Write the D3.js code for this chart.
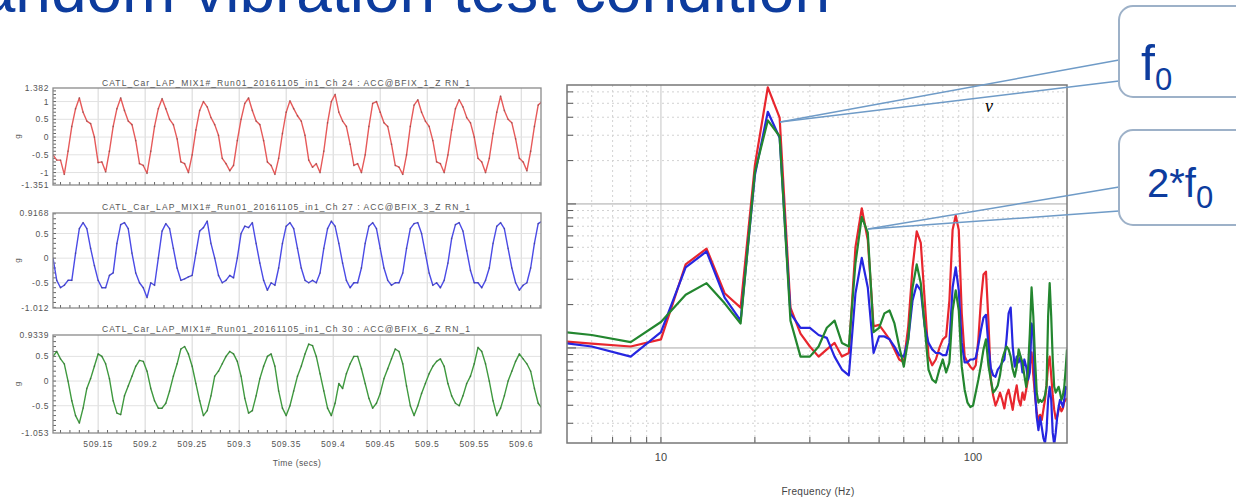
<!DOCTYPE html>
<meta charset="utf-8">
<style>
    body { margin: 0; background: #fff; }
    svg { display: block; font-family: "Liberation Sans", Arial, sans-serif; }
</style>
<script src="https://d3js.org/d3.v7.min.js"></script>

<div id="chart"></div>

<script>
// ---- data ----
const titleText = "Random vibration test condition";

// time records (g), one sample every 4 ms starting at t0 (secs)
const t0 = 509.102, dt = 0.004;
const timeTicks = [509.15, 509.2, 509.25, 509.3, 509.35, 509.4, 509.45, 509.5, 509.55, 509.6];
const timeTickLabels = ["509.15", "509.2", "509.25", "509.3", "509.35", "509.4", "509.45", "509.5", "509.55", "509.6"];

const ch24 = [-0.5,-0.65,-0.65,-1.05,-0.4,0.3,0.8,1.1,0.7,0.45,
    0.38,0.0,-0.72,-0.7,-0.98,-0.4,0.3,0.8,1.1,0.75,
    0.45,0.35,-0.1,-0.75,-0.8,-1.02,-0.4,0.3,0.8,1.08,
    0.8,0.5,0.35,-0.05,-0.7,-0.75,-1.0,-0.5,0.2,0.75,
    1.0,0.85,0.55,0.35,0.05,-0.6,-0.75,-0.95,-0.8,-0.1,
    0.5,0.95,1.1,0.75,0.45,0.35,-0.1,-0.7,-0.8,-1.05,
    -0.6,0.1,0.7,1.02,0.8,0.6,0.45,0.05,-0.65,-0.85,
    -0.75,-1.0,-0.4,0.4,1.0,1.2,0.7,0.45,0.3,-0.2,
    -0.8,-0.75,-1.0,-0.5,0.3,0.95,1.0,0.7,0.4,0.3,
    -0.2,-0.8,-0.85,-1.05,-0.5,0.3,0.9,1.05,0.7,0.45,
    0.3,-0.1,-0.7,-0.75,-1.0,-0.5,0.2,0.8,1.05,0.85,
    0.55,0.4,0.0,-0.6,-0.7,-1.0,-0.6,0.1,0.7,1.15,
    0.75,0.5,0.4,-0.05,-0.6,-0.7,-0.95,-0.4,0.3,0.9,
    1.0];

const ch27 = [0.0,-0.45,-0.6,-0.55,-0.45,-0.45,0.1,0.6,0.72,0.6,
    0.2,-0.15,-0.45,-0.6,-0.6,-0.35,-0.3,0.3,0.68,0.72,
    0.6,0.1,-0.3,-0.5,-0.6,-0.8,-0.5,-0.55,0.0,0.55,
    0.7,0.6,0.2,-0.2,-0.45,-0.42,-0.38,-0.35,0.1,0.55,
    0.62,0.75,0.3,0.0,-0.35,-0.5,-0.45,-0.35,-0.4,0.0,
    0.5,0.65,0.62,0.72,0.3,-0.1,-0.45,-0.65,-0.5,-0.55,
    -0.2,0.3,0.65,0.72,0.6,0.2,-0.2,-0.45,-0.5,-0.45,
    -0.5,-0.3,0.2,0.6,0.75,0.65,0.3,-0.1,-0.45,-0.6,
    -0.5,-0.5,-0.2,0.3,0.65,0.72,0.6,0.2,-0.2,-0.45,
    -0.55,-0.5,-0.5,-0.3,0.2,0.6,0.7,0.72,0.5,0.1,
    -0.3,-0.55,-0.5,-0.6,-0.45,-0.1,0.4,0.68,0.72,0.55,
    0.15,-0.25,-0.5,-0.5,-0.6,-0.45,-0.2,0.3,0.65,0.72,
    0.6,0.2,-0.2,-0.5,-0.65,-0.55,-0.5,-0.2,0.3,0.7,
    0.75];

const ch30 = [0.5,0.6,0.45,0.35,0.0,-0.4,-0.7,-0.85,-0.55,-0.15,
    0.05,0.3,0.55,0.5,0.35,0.05,-0.4,-0.65,-0.68,-0.3,
    -0.1,0.1,0.3,0.42,0.4,0.2,-0.15,-0.4,-0.55,-0.55,
    -0.45,-0.2,0.1,0.35,0.65,0.7,0.55,0.3,-0.05,-0.4,
    -0.7,-0.6,-0.3,0.1,0.2,0.35,0.5,0.6,0.55,0.4,
    0.1,-0.35,-0.65,-0.6,-0.3,0.05,0.3,0.5,0.55,0.3,
    -0.2,-0.55,-0.7,-0.5,-0.2,0.1,0.3,0.55,0.75,0.72,
    0.5,0.15,-0.2,-0.55,-0.7,-0.45,-0.05,-0.15,0.15,0.35,
    0.5,0.5,0.25,-0.05,-0.35,-0.55,-0.45,-0.25,0.05,0.25,
    0.45,0.65,0.6,0.35,-0.1,-0.5,-0.7,-0.5,-0.25,-0.05,
    0.15,0.3,0.4,0.45,0.3,-0.05,-0.3,-0.45,-0.5,-0.3,
    -0.05,0.1,0.35,0.68,0.6,0.35,0.0,-0.4,-0.7,-0.55,
    -0.3,0.0,0.2,0.4,0.55,0.45,0.35,0.2,-0.15,-0.45,
    -0.55];

const panelTitles = [
    "CATL_Car_LAP_MIX1#_Run01_20161105_in1_Ch 24 : ACC@BFIX_1_Z RN_1",
    "CATL_Car_LAP_MIX1#_Run01_20161105_in1_Ch 27 : ACC@BFIX_3_Z RN_1",
    "CATL_Car_LAP_MIX1#_Run01_20161105_in1_Ch 30 : ACC@BFIX_6_Z RN_1"
];
const panelRanges = [[-1.351, 1.382], [-1.012, 0.9168], [-1.053, 0.9339]];
const panelRangeLabels = [["-1.351", "1.382"], ["-1.012", "0.9168"], ["-1.053", "0.9339"]];

// PSD in dB (re 1 g^2/Hz), 2 Hz bins starting at 4 Hz
const psdStartHz = 4, psdStepHz = 2;
const psdRed = [-29.4,-29.7,-29.9,-29.4,-24.2,-23.1,-26.2,-27.2,-17.3,-11.9,
    -14.0,-27.2,-29.0,-29.9,-30.6,-30.1,-29.65,-30.6,-30.35,-23.0,
    -20.3,-22.5,-28.5,-28.4,-28.9,-29.4,-30.1,-30.8,-31.0,-28.5,
    -24.4,-21.9,-22.7,-26.7,-30.6,-31.2,-30.8,-30.0,-29.4,-29.2,
    -26.7,-21.8,-20.8,-21.8,-27.6,-30.6,-31.0,-31.3,-31.5,-31.2,
    -29.4,-26.7,-24.9,-24.7,-28.1,-32.2,-33.3,-34.0,-33.6,-33.1,
    -33.6,-34.2,-33.3,-32.9,-33.6,-34.3,-33.3,-32.6,-33.6,-34.0,
    -33.1,-33.6,-32.9,-32.2,-31.2,-30.3,-31.9,-33.3,-34.5,-35.0,
    -34.65,-35.0,-34.3,-33.6,-32.6,-31.2,-30.6,-31.9,-33.3,-34.3,
    -34.9,-34.8,-34.3,-34.1,-34.4,-34.2,-33.75,-33.6,-33.5];
const psdBlue = [-29.4,-29.9,-30.6,-28.9,-24.4,-23.3,-26.5,-28.1,-18.0,-13.6,
    -15.4,-27.6,-28.6,-28.6,-29.1,-29.3,-30.6,-31.5,-31.9,-26.2,
    -23.75,-25.8,-30.35,-29.2,-29.2,-29.4,-29.9,-30.5,-30.6,-29.4,
    -26.7,-25.6,-26.0,-28.5,-29.65,-30.1,-30.35,-30.35,-30.5,-30.5,
    -29.65,-25.8,-24.4,-26.0,-29.65,-31.0,-31.0,-30.8,-30.8,-30.7,
    -29.8,-28.75,-27.9,-27.7,-29.8,-31.4,-31.9,-32.0,-31.5,-31.3,
    -31.0,-30.8,-29.4,-27.6,-27.2,-29.9,-31.3,-30.6,-31.0,-30.6,
    -31.7,-30.8,-31.3,-32.2,-31.7,-28.3,-29.0,-33.1,-34.8,-35.7,
    -34.8,-35.5,-36.25,-36.6,-35.7,-33.6,-32.7,-33.6,-35.9,-36.7,
    -35.9,-34.8,-34.1,-33.6,-33.8,-34.1,-33.6,-32.7,-32.9];
const psdGreen = [-28.7,-29.1,-29.6,-28.2,-26.3,-25.5,-26.9,-28.3,-17.8,-14.2,
    -15.3,-28.1,-30.6,-30.6,-29.9,-28.6,-28.1,-29.65,-29.9,-24.1,
    -20.9,-22.0,-28.9,-28.6,-27.6,-27.4,-28.3,-29.9,-31.3,-29.4,
    -25.8,-24.2,-25.5,-28.5,-31.5,-32.2,-32.4,-31.5,-30.8,-31.7,
    -31.0,-27.4,-26.0,-27.4,-31.3,-32.9,-33.8,-34.1,-34.0,-33.1,
    -32.2,-31.2,-30.1,-29.4,-31.2,-32.2,-33.1,-32.9,-32.6,-31.9,
    -30.8,-30.3,-29.9,-30.1,-30.6,-31.5,-32.0,-31.3,-30.1,-30.6,
    -31.0,-31.9,-32.7,-31.5,-29.0,-25.8,-27.8,-30.8,-33.1,-33.8,
    -33.6,-33.75,-33.6,-33.3,-32.6,-27.8,-25.5,-27.8,-30.8,-32.7,
    -33.1,-32.9,-32.7,-33.1,-33.6,-33.3,-32.7,-31.5,-30.1];
const freqTickLabels = [10, 100];

// ---- drawing ----
const svg = d3.select("#chart")
  .append("svg")
    .attr("width", 1236)
    .attr("height", 498);
const defs = svg.append("defs");

// slide title (cut off at the top, as on the slide)
svg.append("text")
    .attr("x", 830).attr("y", 12)
    .attr("text-anchor", "end")
    .style("font-size", "64px")
    .attr("fill", "#0d3c9e")
    .text(titleText);

// left: three time histories
const panels = [
    {values: ch24, color: "#e65a5a", top: 88, bottom: 185, titleY: 86},
    {values: ch27, color: "#4b4be6", top: 213, bottom: 308, titleY: 210},
    {values: ch30, color: "#3f9a3f", top: 335, bottom: 433, titleY: 332}
];
const tx = d3.scaleLinear().domain([509.102, 509.621]).range([53, 541]);

panels.forEach(function(p, k) {
    const range = panelRanges[k];
    const y = d3.scaleLinear().domain(range).range([p.bottom, p.top]);
    const g = svg.append("g");

    defs.append("clipPath").attr("id", "clipT" + k)
      .append("rect").attr("x", 53).attr("y", p.top).attr("width", 488).attr("height", p.bottom - p.top);

    // grid
    g.selectAll(".vg").data(timeTicks).join("line")
        .attr("x1", d => tx(d)).attr("x2", d => tx(d))
        .attr("y1", p.top).attr("y2", p.bottom)
        .attr("stroke", "#d6d6d6");
    const yTicks = [-1, -0.5, 0, 0.5, 1].filter(v => v > range[0] + 0.1 && v < range[1] - 0.1);
    g.selectAll(".hg").data(yTicks).join("line")
        .attr("x1", 53).attr("x2", 541)
        .attr("y1", d => y(d)).attr("y2", d => y(d))
        .attr("stroke", "#e2e2e2");

    // small inward ticks
    const minorT = d3.range(509.11, 509.621, 0.01);
    g.selectAll(".mt").data(minorT).join("line")
        .attr("x1", d => tx(d)).attr("x2", d => tx(d))
        .attr("y1", p.bottom).attr("y2", p.bottom - 3)
        .attr("stroke", "#666");
    const minorY = d3.range(Math.ceil(range[0] * 10) / 10, range[1], 0.1);
    g.selectAll(".my").data(minorY).join("line")
        .attr("x1", 53).attr("x2", 56)
        .attr("y1", d => y(d)).attr("y2", d => y(d))
        .attr("stroke", "#666");

    // signal
    const line = d3.line()
        .x((d, i) => tx(t0 + i * dt))
        .y(d => y(d));
    g.append("path")
        .datum(p.values)
        .attr("clip-path", "url(#clipT" + k + ")")
        .attr("d", line)
        .attr("fill", "none")
        .attr("stroke", p.color)
        .attr("stroke-width", 1.4)
        .attr("stroke-linejoin", "round");
    g.selectAll(".pt").data(p.values).join("circle")
        .attr("cx", (d, i) => tx(t0 + i * dt))
        .attr("cy", d => y(d))
        .attr("r", 0.9)
        .attr("fill", "#333")
        .attr("opacity", 0.35)
        .attr("clip-path", "url(#clipT" + k + ")");

    // frame
    g.append("rect")
        .attr("x", 53).attr("y", p.top)
        .attr("width", 488).attr("height", p.bottom - p.top)
        .attr("fill", "none").attr("stroke", "#8a8a8a").attr("stroke-width", 1.3);

    // title
    g.append("text")
        .attr("x", 102).attr("y", p.titleY)
        .attr("textLength", 368).attr("lengthAdjust", "spacing")
        .style("font-size", "8.5px").attr("fill", "#555")
        .text(panelTitles[k]);

    // y tick labels (extremes + round values)
    const labs = [{v: range[1], t: panelRangeLabels[k][1]}]
        .concat(yTicks.slice().reverse().map(v => ({v: v, t: String(v)})))
        .concat([{v: range[0], t: panelRangeLabels[k][0]}]);
    g.selectAll(".yl").data(labs).join("text")
        .attr("x", 49).attr("y", d => y(d.v))
        .attr("dy", "0.35em")
        .attr("text-anchor", "end")
        .style("font-size", "8.5px")
        .style("letter-spacing", "0.6px")
        .attr("fill", "#555")
        .text(d => d.t);

    g.append("text")
        .attr("transform", `translate(20, ${(p.top + p.bottom) / 2}) rotate(-90)`)
        .attr("text-anchor", "middle")
        .style("font-size", "8px").attr("fill", "#555")
        .text("g");

    if (k === 2) {
        g.selectAll(".xl").data(timeTicks).join("text")
            .attr("x", d => tx(d)).attr("y", 447)
            .attr("text-anchor", "middle")
            .style("font-size", "8.5px")
            .style("letter-spacing", "0.6px")
            .attr("fill", "#555")
            .text((d, i) => timeTickLabels[i]);
        g.append("text")
            .attr("x", 297).attr("y", 466)
            .attr("text-anchor", "middle")
            .style("font-size", "8.5px").style("letter-spacing", "0.4px")
            .attr("fill", "#555")
            .text("Time (secs)");
    }
});

// right: PSD on log-log axes
const fx = d3.scaleLog().domain([5, 200]).range([567, 1067]);
const py = d3.scaleLog().domain([Math.pow(10, -3.66), Math.pow(10, -1.174)]).range([443, 85]);
const rg = svg.append("g");

defs.append("clipPath").attr("id", "clipF")
  .append("rect").attr("x", 567).attr("y", 85).attr("width", 500).attr("height", 358);

const fTicks = fx.ticks().filter(d => d > 5 && d < 200);
const isDecade = d => Math.abs(Math.log10(d) - Math.round(Math.log10(d))) < 1e-6;
rg.selectAll(".fg").data(fTicks).join("line")
    .attr("x1", d => fx(d)).attr("x2", d => fx(d))
    .attr("y1", 85).attr("y2", 443)
    .attr("stroke", d => isDecade(d) ? "#c4c4c4" : "#d2d2d2")
    .attr("stroke-dasharray", d => isDecade(d) ? null : "2,3");
const pTicks = py.ticks();
rg.selectAll(".pg").data(pTicks).join("line")
    .attr("x1", 567).attr("x2", 1067)
    .attr("y1", d => py(d)).attr("y2", d => py(d))
    .attr("stroke", d => isDecade(d) ? "#a8a8a8" : "#d2d2d2")
    .attr("stroke-dasharray", d => isDecade(d) ? null : "2,3");

// inward ticks
rg.selectAll(".ft").data(fTicks).join("line")
    .attr("x1", d => fx(d)).attr("x2", d => fx(d))
    .attr("y1", 443).attr("y2", 437)
    .attr("stroke", "#555");
rg.selectAll(".pt").data(pTicks).join("line")
    .attr("x1", 567).attr("x2", d => isDecade(d) ? 576 : 573)
    .attr("y1", d => py(d)).attr("y2", d => py(d))
    .attr("stroke", "#555");

const psdLine = d3.line()
    .x((d, i) => fx(psdStartHz + i * psdStepHz))
    .y(d => py(Math.pow(10, d / 10)));
[[psdRed, "#e8262e"], [psdBlue, "#2626e0"], [psdGreen, "#23862f"]].forEach(function(s) {
    rg.append("path")
        .datum(s[0])
        .attr("clip-path", "url(#clipF)")
        .attr("d", psdLine)
        .attr("fill", "none")
        .attr("stroke", s[1])
        .attr("stroke-width", 2.2)
        .attr("stroke-linejoin", "round");
});

rg.append("rect")
    .attr("x", 567).attr("y", 85).attr("width", 500).attr("height", 358)
    .attr("fill", "none").attr("stroke", "#777").attr("stroke-width", 1.5);

rg.selectAll(".fl").data(freqTickLabels).join("text")
    .attr("x", d => fx(d)).attr("y", 461)
    .attr("text-anchor", "middle")
    .style("font-size", "11px").attr("fill", "#444")
    .text(d => d);
rg.append("text")
    .attr("x", 818).attr("y", 495)
    .attr("text-anchor", "middle")
    .style("font-size", "10px").style("letter-spacing", "0.3px").attr("fill", "#444")
    .text("Frequency (Hz)");

svg.append("text")
    .attr("x", 985).attr("y", 112)
    .style("font-family", "'Liberation Serif', 'DejaVu Serif', serif")
    .style("font-style", "italic")
    .style("font-size", "18px")
    .text("v");

// callouts
const callColor = "#6f9bc7";
[[60, 81, 780, 122], [187, 211, 868, 229]].forEach(function(c) {
    svg.append("line").attr("x1", 1119).attr("y1", c[0]).attr("x2", c[2]).attr("y2", c[3])
        .attr("stroke", callColor).attr("stroke-width", 1.5);
    svg.append("line").attr("x1", 1119).attr("y1", c[1]).attr("x2", c[2]).attr("y2", c[3])
        .attr("stroke", callColor).attr("stroke-width", 1.5);
});
svg.append("rect").attr("x", 1119).attr("y", 6).attr("width", 140).attr("height", 91).attr("rx", 14)
    .attr("fill", "#fff").attr("stroke", "#9db1c8").attr("stroke-width", 2);
svg.append("rect").attr("x", 1119).attr("y", 130).attr("width", 140).attr("height", 95).attr("rx", 14)
    .attr("fill", "#fff").attr("stroke", "#9db1c8").attr("stroke-width", 2);

const c1 = svg.append("text").attr("x", 1141).attr("y", 80).attr("fill", "#0d3c9e").style("font-size", "50px");
c1.append("tspan").text("f");
c1.append("tspan").attr("dy", 10).style("font-size", "31px").text("0");
const c2 = svg.append("text").attr("x", 1147).attr("y", 197).attr("fill", "#0d3c9e").style("font-size", "40px");
c2.append("tspan").text("2*f");
c2.append("tspan").attr("dy", 11).style("font-size", "31px").text("0");
</script>
